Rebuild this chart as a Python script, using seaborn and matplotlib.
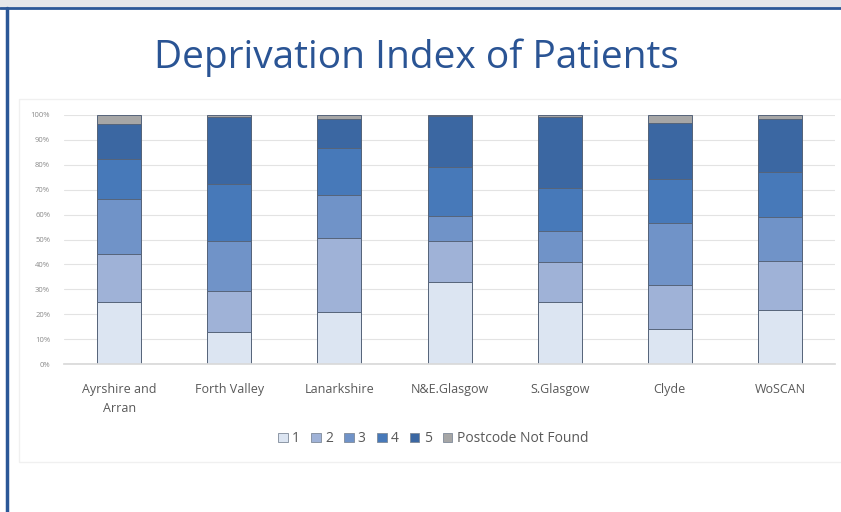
import matplotlib.pyplot as plt
import numpy as np
import seaborn as sns
from matplotlib.patches import Patch, Rectangle
from matplotlib.lines import Line2D
from matplotlib.ticker import PercentFormatter

sns.set_theme(style="white")
plt.rcParams["font.family"] = ["Open Sans", "DejaVu Sans"]

regions = ["Ayrshire and\nArran", "Forth Valley", "Lanarkshire", "N&E.Glasgow",
           "S.Glasgow", "Clyde", "WoSCAN"]
levels = ["1", "2", "3", "4", "5", "Postcode Not Found"]

# share of patients (%) per deprivation quintile
q1 = [24.9, 12.8, 20.9, 32.9, 24.9, 14.2, 21.5]
q2 = [19.2, 16.6, 29.6, 16.4, 15.9, 17.4, 19.9]
q3 = [22.1, 19.9, 17.4, 10.1, 12.8, 25.0, 17.8]
q4 = [16.2, 22.8, 18.7, 19.9, 17.0, 17.6, 18.1]
q5 = [13.9, 27.0, 11.8, 20.4, 28.5, 22.7, 21.0]
not_found = [3.7, 0.9, 1.6, 0.3, 0.9, 3.1, 1.7]

colors = ["#dce5f2", "#9fb2d7", "#7093c8", "#4779b9", "#3b67a2", "#a6a6a6"]

series = np.array([q1, q2, q3, q4, q5, not_found])
tops = series.cumsum(axis=0)

fig = plt.figure(figsize=(8.41, 5.12), dpi=100)
fig.patch.set_facecolor("white")

# slide frame
fig.patches.append(Rectangle((0, 0.984), 1, 0.016, transform=fig.transFigure,
                             facecolor="#e4e6ea", edgecolor="none", zorder=0))
fig.lines.append(Line2D([0, 1], [0.984, 0.984], transform=fig.transFigure,
                        color="#2b5797", lw=2))
fig.lines.append(Line2D([0.008, 0.008], [0, 0.984], transform=fig.transFigure,
                        color="#2b5797", lw=2.5))
fig.patches.append(Rectangle((0.022, 0.097), 0.99, 0.71, transform=fig.transFigure,
                             facecolor="none", edgecolor="#f0f0f0", lw=1, zorder=0))

ax = fig.add_axes([0.0761, 0.289, 0.9169, 0.4864])

# draw cumulative tops from highest down so each layer covers the ones above it
for i in range(len(levels) - 1, -1, -1):
    sns.barplot(x=regions, y=tops[i], color=colors[i], width=0.4, saturation=1,
                edgecolor="#56647a", linewidth=0.7, ax=ax, zorder=2)

ax.set_ylim(0, 100)
ax.set_yticks(np.arange(0, 101, 10))
ax.yaxis.set_major_formatter(PercentFormatter(decimals=0))
ax.grid(axis="y", color="#e3e3e3", lw=0.8, zorder=0)
ax.set_axisbelow(True)
sns.despine(ax=ax, left=True, bottom=False)
ax.spines["bottom"].set_color("#d9d9d9")
ax.tick_params(axis="y", labelsize=5.5, labelcolor="#8a8a8a", length=0, pad=10)
ax.tick_params(axis="x", labelsize=9, labelcolor="#595959", length=0, pad=14)
for lab in ax.get_xticklabels():
    lab.set_linespacing(1.55)
ax.set_xlabel("")
ax.set_ylabel("")

fig.text(0.495, 0.888, "Deprivation Index of Patients", ha="center", va="center",
         fontsize=28, color="#2a5494")

handles = [Patch(facecolor=c, edgecolor="#7f8a99", lw=0.6) for c in colors]
fig.legend(handles, levels, loc="center", bbox_to_anchor=(0.515, 0.143), ncol=6,
           frameon=False, fontsize=10, labelcolor="#595959", handlelength=0.7,
           handleheight=0.7, handletextpad=0.3, columnspacing=0.8)

plt.savefig("out.png", dpi=100)
